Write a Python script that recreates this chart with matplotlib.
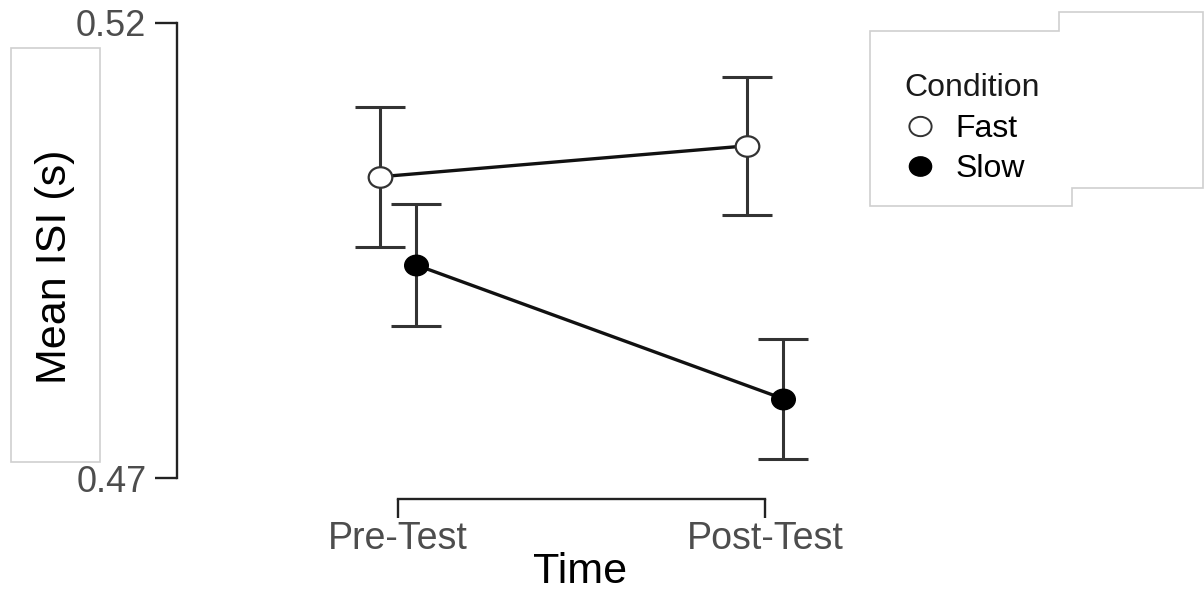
import numpy as np
import matplotlib.pyplot as plt
from matplotlib.path import Path
from matplotlib.lines import Line2D
from matplotlib.patches import Rectangle, Polygon

plt.rcParams['font.family'] = ['Liberation Sans', 'DejaVu Sans']

# Data (mean ISI with standard errors)
time_labels = ['Pre-Test', 'Post-Test']
time_pos = [1, 2]
fast_mean = [0.5031, 0.5065]
fast_se = [0.0077, 0.0076]
slow_mean = [0.4934, 0.4787]
slow_se = [0.0067, 0.0066]
y_ticks = [0.47, 0.52]

W, H = 1204, 592
fig = plt.figure(figsize=(W / 100, H / 100), dpi=100)

# axes placed in pixels
ax_l, ax_r, ax_b, ax_t = 177, 860, 499, 23
ax = fig.add_axes([ax_l / W, 1 - ax_b / H, (ax_r - ax_l) / W, (ax_b - ax_t) / H])

# egg-shaped markers (a bit wider than tall, like the stretched original)
circ = Path.unit_circle()
ellipse = Path(circ.vertices * np.array([1.15, 1.0]), circ.codes)

dodge = 0.05
x = np.array(time_pos, dtype=float)

ax.errorbar(x - dodge, fast_mean, yerr=fast_se, fmt='none', ecolor='#333333',
            elinewidth=2.2, capsize=18, capthick=2.2, zorder=2)
ax.errorbar(x + dodge, slow_mean, yerr=slow_se, fmt='none', ecolor='#333333',
            elinewidth=2.2, capsize=18, capthick=2.2, zorder=2)

ax.plot(x - dodge, fast_mean, color='#111111', lw=2.4, zorder=3)
ax.plot(x + dodge, slow_mean, color='#111111', lw=2.4, zorder=3)
ax.plot(x - dodge, fast_mean, ls='none', marker=ellipse, ms=17, mfc='white',
        mec='#333333', mew=1.6, zorder=4)
ax.plot(x + dodge, slow_mean, ls='none', marker=ellipse, ms=17, mfc='black',
        mec='black', mew=1.0, zorder=4)

px_y = (0.52 - 0.47) / (478 - 23)
ax.set_ylim(0.47 - (ax_b - 478) * px_y, 0.52)
px_x = 1 / (765 - 398)
ax.set_xlim(1 - (398 - ax_l) * px_x, 2 + (ax_r - 765) * px_x)

ax.set_yticks(y_ticks)
ax.set_yticklabels(['0.47', '0.52'])
ax.set_xticks(time_pos)
ax.set_xticklabels(time_labels)

for s in ['top', 'right']:
    ax.spines[s].set_visible(False)
ax.spines['left'].set_bounds(y_ticks[0], y_ticks[1])
ax.spines['bottom'].set_bounds(time_pos[0], time_pos[1])
for s in ['left', 'bottom']:
    ax.spines[s].set_linewidth(1.7)
    ax.spines[s].set_color('#222222')

ax.tick_params(axis='y', length=16, width=1.7, color='#222222', pad=6,
               labelsize=26, labelcolor='#4d4d4d')
ax.tick_params(axis='x', length=14, width=1.7, color='#222222', pad=2,
               labelsize=27, labelcolor='#4d4d4d')
ax.patch.set_visible(False)

fig.text(55 / W, 1 - 267 / H, 'Mean ISI (s)', rotation=90, fontsize=31,
         ha='center', va='center', color='black')
fig.text(580 / W, 1 - 572 / H, 'Time', fontsize=31, ha='center', va='center',
         color='black')

# light boxes around the y label and the legend
fig.add_artist(Rectangle((11 / W, 1 - 462 / H), (100 - 11) / W, (462 - 48) / H,
                         transform=fig.transFigure, fill=False,
                         ec='#cfcfcf', lw=1.2))
legend_outline = [(870, 31), (1059, 31), (1059, 12), (1203, 12), (1203, 188),
                  (1072, 188), (1072, 206), (870, 206)]
fig.add_artist(Polygon([(px / W, 1 - py / H) for px, py in legend_outline],
                       closed=True, transform=fig.transFigure, fill=False,
                       ec='#cfcfcf', lw=1.2))

handles = [
    Line2D([], [], ls='none', marker=ellipse, ms=16, mfc='white', mec='#333333', mew=1.4),
    Line2D([], [], ls='none', marker=ellipse, ms=16, mfc='black', mec='black'),
]
leg = fig.legend(handles, ['Fast', 'Slow'], title='Condition', frameon=False,
                 loc='upper left', bbox_to_anchor=(904 / W, 1 - 73 / H),
                 fontsize=23, title_fontsize=23, handlelength=1.0,
                 handletextpad=0.6, labelspacing=0.3, borderpad=0,
                 borderaxespad=0)
leg._legend_box.align = 'left'
leg._legend_box.sep = 8
leg.get_title().set_color('#1a1a1a')

fig.savefig('out.png', dpi=100)
